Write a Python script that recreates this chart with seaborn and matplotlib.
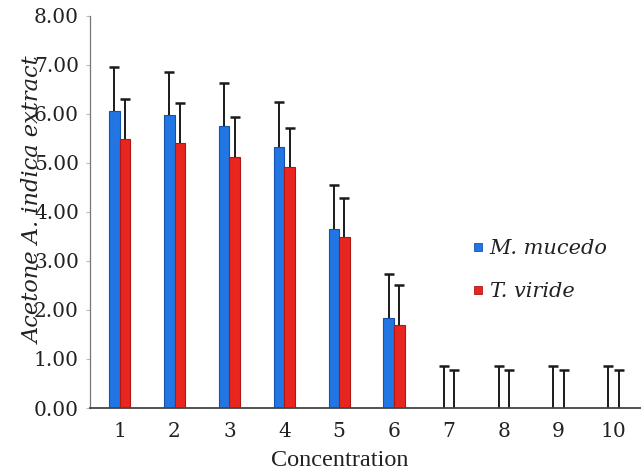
import numpy as np
import pandas as pd
import matplotlib
matplotlib.use("Agg")
import matplotlib.pyplot as plt
from matplotlib.lines import Line2D
import seaborn as sns

# Data
concentrations = ["1", "2", "3", "4", "5", "6", "7", "8", "9", "10"]
m_mucedo = [6.05, 5.97, 5.75, 5.33, 3.66, 1.83, 0, 0, 0, 0]
t_viride = [5.49, 5.41, 5.12, 4.92, 3.48, 1.69, 0, 0, 0, 0]
m_mucedo_err = [0.90, 0.89, 0.87, 0.90, 0.88, 0.90, 0.86, 0.86, 0.86, 0.86]
t_viride_err = [0.81, 0.81, 0.82, 0.80, 0.80, 0.81, 0.78, 0.78, 0.78, 0.78]
series_names = ["M. mucedo", "T. viride"]
colors = ["#2176E3", "#E8251F"]
edge_colors = ["#1452A8", "#B01612"]

df = pd.DataFrame({
    "Concentration": concentrations * 2,
    "value": m_mucedo + t_viride,
    "species": [series_names[0]] * 10 + [series_names[1]] * 10,
})

sns.set_theme(style="white")
plt.rcParams["font.family"] = ["DejaVu Serif"]

fig = plt.figure(figsize=(6.41, 4.74), dpi=100)
ax = fig.add_axes([90 / 641, 1 - 408 / 474, 1 - 90 / 641, (408 - 15.7) / 474])

sns.barplot(data=df, x="Concentration", y="value", hue="species",
            order=concentrations, hue_order=series_names,
            palette=colors, saturation=1, width=0.385, errorbar=None, ax=ax,
            linewidth=0.8, legend=False)

# Upward-only error bars placed on each bar (cap only at the top)
errs = [m_mucedo_err, t_viride_err]
bar_groups = list(ax.containers)
for k, cont in enumerate(bar_groups):
    for j, patch in enumerate(cont.patches):
        patch.set_edgecolor(edge_colors[k])
        xc = patch.get_x() + patch.get_width() / 2
        h = patch.get_height()
        _, caps, _ = ax.errorbar(xc, h, yerr=[[0], [errs[k][j]]], fmt="none",
                                 ecolor="#1a1a1a", elinewidth=1.4, capsize=3.4,
                                 capthick=1.8, zorder=1)
        caps[0].set_visible(False)

ax.set_ylim(0, 8)
ax.set_xlim(-0.54, 9.5)
ax.set_yticks(np.arange(0, 9, 1))
ax.set_yticklabels([f"{v:.2f}" for v in np.arange(0, 9, 1)])
ax.tick_params(axis="y", which="major", length=3, width=0.8, color="#bbbbbb",
               labelsize=14.5, labelcolor="#222222", pad=5, left=True)
ax.tick_params(axis="x", length=0, labelsize=14.5, labelcolor="#222222", pad=10)

for lab in ax.get_xticklabels() + ax.get_yticklabels():
    lab.set_family("DejaVu Serif")

for s in ["top", "right"]:
    ax.spines[s].set_visible(False)
ax.spines["left"].set_color("#777777")
ax.spines["left"].set_linewidth(0.9)
ax.spines["bottom"].set_color("#444444")
ax.spines["bottom"].set_linewidth(1.3)

ax.set_xlabel("")
ax.set_ylabel("")
fig.text(340 / 641, 1 - 461 / 474, "Concentration", ha="center", va="center",
         fontsize=17.5, family="Liberation Serif", color="#222222")
fig.text(34 / 641, 1 - 200 / 474, "Acetone A. indica extract", rotation=90,
         ha="center", va="center", fontsize=16.2, family="DejaVu Serif",
         style="italic", color="#222222")

handles = [Line2D([], [], marker="s", linestyle="none", markersize=6,
                  markerfacecolor=c, markeredgecolor=e, markeredgewidth=0.6)
           for c, e in zip(colors, edge_colors)]
leg = ax.legend(handles, series_names, loc="center left",
                bbox_to_anchor=(473 / 641, 1 - 270 / 474),
                bbox_transform=fig.transFigure, frameon=False,
                handlelength=0.5, handletextpad=0.3, labelspacing=1.15,
                borderpad=0, borderaxespad=0,
                prop={"family": "DejaVu Serif", "style": "italic", "size": 15})
for t in leg.get_texts():
    t.set_color("#222222")

fig.savefig("out.png", dpi=100)
